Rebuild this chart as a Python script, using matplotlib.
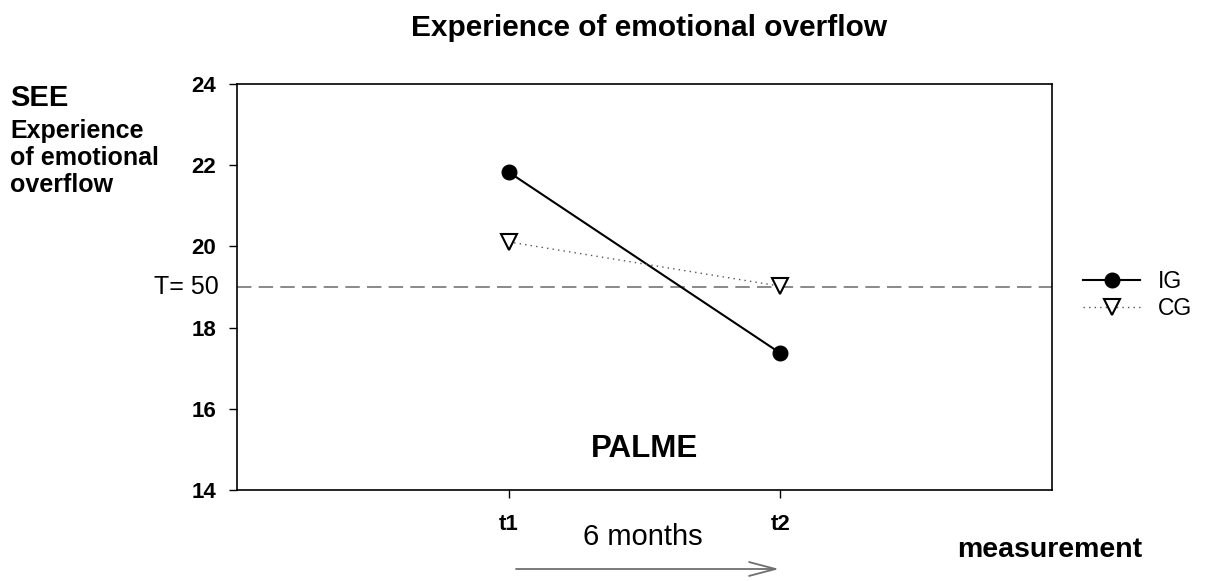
import numpy as np
import matplotlib
matplotlib.use("Agg")
import matplotlib.pyplot as plt

plt.rcParams['font.family'] = ['Liberation Sans', 'DejaVu Sans']

# datos
tiempos = ["t1", "t2"]
x_pos = [1, 2]
ig = [21.83, 17.37]
cg = [20.11, 19.02]
t50 = 19.0
yticks = [14, 16, 18, 20, 22, 24]

fig = plt.figure(figsize=(12.09, 5.81), dpi=100)
ax = fig.add_axes([237/1209, 1 - 490/581, (1052-237)/1209, (490-84)/581])

ax.axhline(t50, color="#808080", lw=1.3, dashes=(8, 4))
ax.plot(x_pos, ig, color="black", lw=1.5, marker="o", ms=10.5,
        mfc="black", mec="black", label="IG")
ax.plot(x_pos, cg, color="#555555", lw=1.0, ls=(0, (1, 3)), marker="v", ms=11,
        mfc="white", mec="black", mew=1.5, label="CG")

ax.set_xlim(0, 3)
ax.set_ylim(14, 24)
ax.set_yticks(yticks)
ax.set_yticklabels([str(v) for v in yticks], fontsize=16, fontweight="bold")
ax.set_xticks(x_pos)
ax.set_xticklabels(tiempos, fontsize=16, fontweight="bold")
ax.tick_params(axis="y", direction="out", length=6, width=1, pad=9)
ax.tick_params(axis="x", direction="out", length=6, width=1, pad=11)
for s in ax.spines.values():
    s.set_linewidth(1.2)

ax.text(1.5, 15.0, "PALME", ha="center", va="center", fontsize=22.5, fontweight="bold")

# textos de la figura
fig.text(649/1209, 1 - 28/581, "Experience of emotional overflow", ha="center", va="center",
         fontsize=21.5, fontweight="bold")
fig.text(10/1209, 1 - 98/581, "SEE", ha="left", va="center", fontsize=21, fontweight="bold")
fig.text(10/1209, 1 - 158/581, "Experience\nof emotional\noverflow", ha="left", va="center",
         fontsize=18, fontweight="bold", linespacing=1.15)
fig.text(219/1209, 1 - 287/581, "T= 50", ha="right", va="center", fontsize=18)
fig.text(643/1209, 1 - 537/581, "6 months", ha="center", va="center", fontsize=21)
fig.text(1050/1209, 1 - 550/581, "measurement", ha="center", va="center",
         fontsize=20.5, fontweight="bold")

fig.add_artist(matplotlib.patches.FancyArrowPatch(
    (516/1209, 1 - 569/581), (779/1209, 1 - 569/581), transform=fig.transFigure,
    arrowstyle="->,head_length=19,head_width=5", color="#6f6f6f", lw=1.3,
    shrinkA=0, shrinkB=0))

ax.legend(loc="center left", bbox_to_anchor=(1083/1209, 1 - 295/581),
          bbox_transform=fig.transFigure, frameon=False, borderpad=0, borderaxespad=0,
          fontsize=16.5, handlelength=2.5, handletextpad=0.75, labelspacing=0.15)

fig.savefig("out.png", dpi=100)
